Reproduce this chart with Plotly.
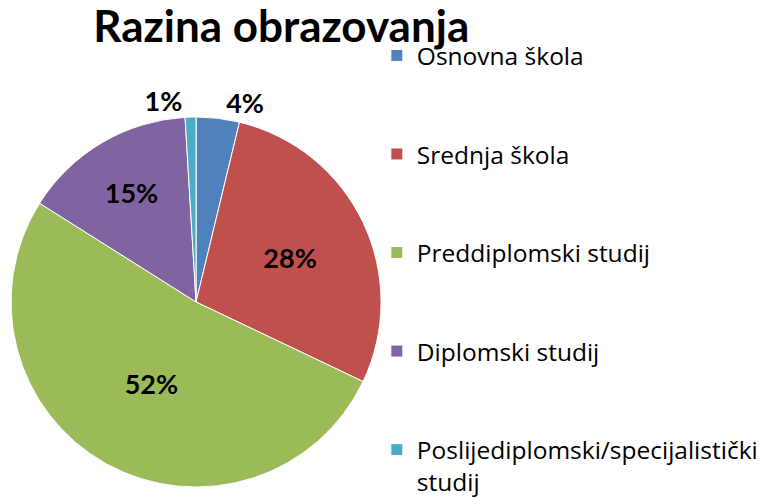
import plotly.graph_objects as go

labels = [
    "Osnovna škola",
    "Srednja škola",
    "Preddiplomski studij",
    "Diplomski studij",
    "Poslijediplomski/specijalistički<br>studij",
]
counts = [4, 30, 55, 16, 1]
colors = ["#4F81BD", "#C0504D", "#9BBB59", "#8064A2", "#4BACC6"]
text_pos = ["outside", "inside", "inside", "inside", "outside"]

# pad legend entries with blank lines so the items are spread like the original
legend_labels = [lab if "<br>" in lab else lab + "<br> <br> " for lab in labels]

fig = go.Figure(
    go.Pie(
        labels=legend_labels,
        values=counts,
        sort=False,
        direction="clockwise",
        rotation=0,
        marker=dict(colors=colors, line=dict(color="white", width=1)),
        texttemplate="%{percent:.0%}",
        textposition=text_pos,
        textfont=dict(family="Lato", size=27, color="black", weight="bold"),
        insidetextorientation="horizontal",
        domain=dict(x=[0.0142, 0.4904], y=[0.0337, 0.7679]),
        hoverinfo="label+percent",
    )
)

fig.update_layout(
    width=777,
    height=504,
    margin=dict(l=0, r=0, t=0, b=0),
    paper_bgcolor="white",
    font=dict(family="Lato", color="black"),
    title=dict(
        text="<b>Razina obrazovanja</b>",
        font=dict(size=44, family="Lato", color="black"),
        x=0.362,
        xanchor="center",
        y=0.947,
        yanchor="middle",
    ),
    legend=dict(
        x=0.485,
        xanchor="left",
        y=0.895,
        yanchor="top",
        valign="top",
        font=dict(size=24.5, family="Open Sans", color="black"),
        bgcolor="rgba(0,0,0,0)",
    ),
)

fig.write_html(
    "out.html",
    config={"displayModeBar": False},
    post_script="document.body.style.margin='0';",
)
